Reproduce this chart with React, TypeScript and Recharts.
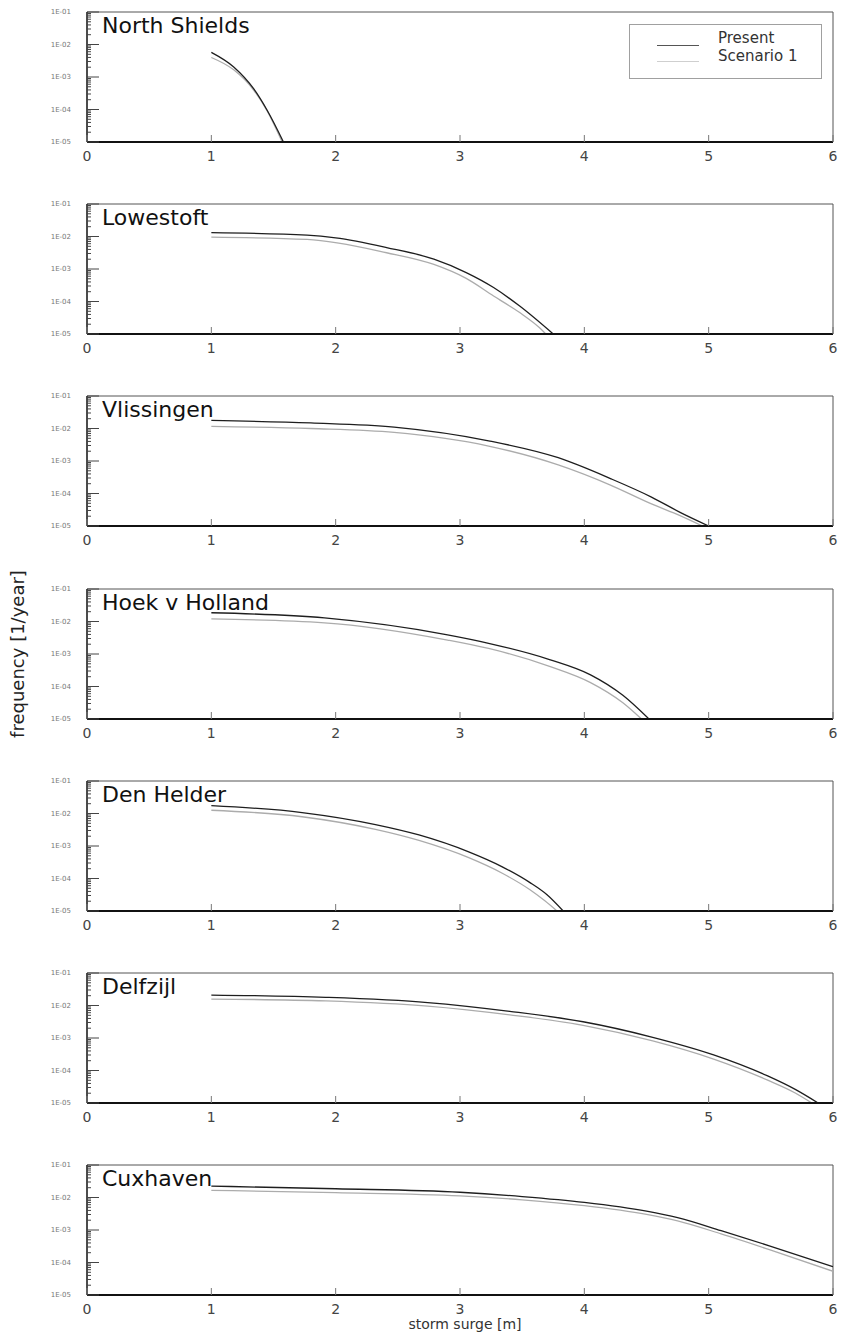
import React from 'react';
import { LineChart, Line, XAxis, YAxis, ReferenceLine } from 'recharts';

// ---------- data ----------
const stationNames = ['North Shields', 'Lowestoft', 'Vlissingen', 'Hoek v Holland', 'Den Helder', 'Delfzijl', 'Cuxhaven'];
const seriesNames = ['Present', 'Scenario 1'];
const xTicks = [0, 1, 2, 3, 4, 5, 6];
const yMajorTicks = [1e-5, 1e-4, 1e-3, 1e-2, 1e-1];
const yTickLabels = ['1E-05', '1E-04', '1E-03', '1E-02', '1E-01'];
const xAxisTitle = 'storm surge [m]';
const yAxisTitle = 'frequency [1/year]';

const northShieldsPresentX = [1.0, 1.18, 1.34, 1.45, 1.58];
const northShieldsPresent = [5.75e-3, 2.04e-3, 4.37e-4, 9.3e-5, 1.0e-5];
const northShieldsScenarioX = [1.0, 1.18, 1.34, 1.45, 1.57];
const northShieldsScenario = [3.98e-3, 1.66e-3, 3.98e-4, 8.9e-5, 1.0e-5];

const lowestoftPresentX = [1.0, 1.77, 2.0, 2.41, 2.79, 3.05, 3.27, 3.48, 3.75];
const lowestoftPresent = [0.0132, 0.011, 0.0091, 0.00457, 0.002, 7.76e-4, 2.69e-4, 7.24e-5, 1.0e-5];
const lowestoftScenarioX = [1.0, 1.77, 2.41, 2.79, 3.05, 3.27, 3.48, 3.64, 3.69];
const lowestoftScenario = [0.00955, 0.00813, 0.00316, 0.00138, 5.13e-4, 1.48e-4, 4.57e-5, 1.55e-5, 1.0e-5];

const vlissingenPresentX = [1.0, 1.8, 2.47, 3.23, 3.79, 4.21, 4.54, 4.77, 5.0];
const vlissingenPresent = [0.0178, 0.0148, 0.011, 0.00417, 0.00126, 2.88e-4, 7.76e-5, 2.63e-5, 1.0e-5];
const vlissingenScenarioX = [1.0, 1.8, 2.47, 3.23, 3.79, 4.21, 4.54, 4.77, 4.95];
const vlissingenScenario = [0.0117, 0.01, 0.00759, 0.00288, 7.59e-4, 1.82e-4, 4.79e-5, 2.09e-5, 1.0e-5];

const hoekPresentX = [1.0, 1.91, 2.9, 3.23, 3.72, 4.05, 4.31, 4.52];
const hoekPresent = [0.0186, 0.0129, 0.00389, 0.00214, 6.76e-4, 2.29e-4, 5.37e-5, 1.0e-5];
const hoekScenarioX = [1.0, 1.91, 2.9, 3.23, 3.72, 4.05, 4.31, 4.46];
const hoekScenario = [0.012, 0.00912, 0.00269, 0.00148, 4.17e-4, 1.32e-4, 3.16e-5, 1.0e-5];

const denHelderPresentX = [1.0, 1.73, 2.32, 2.67, 3.07, 3.34, 3.56, 3.7, 3.83];
const denHelderPresent = [0.0174, 0.0107, 0.00457, 0.00219, 6.61e-4, 2.29e-4, 7.59e-5, 3.16e-5, 1.0e-5];
const denHelderScenarioX = [1.0, 1.73, 2.32, 2.67, 3.07, 3.34, 3.56, 3.68, 3.78];
const denHelderScenario = [0.0126, 0.00794, 0.00324, 0.00148, 4.37e-4, 1.45e-4, 4.57e-5, 2.09e-5, 1.0e-5];

const delfzijlPresentX = [1.0, 1.92, 2.74, 3.4, 3.99, 4.55, 5.04, 5.47, 5.7, 5.88];
const delfzijlPresent = [0.0209, 0.0178, 0.0123, 0.0066, 0.00316, 0.00105, 3.02e-4, 6.92e-5, 2.57e-5, 1.0e-5];
const delfzijlScenarioX = [1.0, 1.92, 2.74, 3.4, 3.99, 4.55, 5.04, 5.47, 5.7, 5.83];
const delfzijlScenario = [0.0158, 0.0138, 0.00955, 0.00513, 0.00245, 8.13e-4, 2.24e-4, 5.13e-5, 2.0e-5, 1.0e-5];

const cuxhavenPresentX = [1.0, 2.0, 3.0, 3.5, 4.0, 4.5, 4.75, 5.1, 5.5, 6.0];
const cuxhavenPresent = [0.0224, 0.0186, 0.0145, 0.0107, 0.00708, 0.0038, 0.0024, 9.55e-4, 3.16e-4, 7.41e-5];
const cuxhavenScenarioX = [1.0, 2.0, 3.0, 3.5, 4.0, 4.5, 4.75, 5.1, 5.5, 6.0];
const cuxhavenScenario = [0.0166, 0.0141, 0.0112, 0.0085, 0.00562, 0.00302, 0.00191, 7.59e-4, 2.4e-4, 5.37e-5];

// ---------- assembly ----------
const toPoints = (xs: number[], ys: number[]) => xs.map((x, i) => ({ x, y: ys[i] }));

const stations = [
  { px: northShieldsPresentX, p: northShieldsPresent, sx: northShieldsScenarioX, s: northShieldsScenario },
  { px: lowestoftPresentX, p: lowestoftPresent, sx: lowestoftScenarioX, s: lowestoftScenario },
  { px: vlissingenPresentX, p: vlissingenPresent, sx: vlissingenScenarioX, s: vlissingenScenario },
  { px: hoekPresentX, p: hoekPresent, sx: hoekScenarioX, s: hoekScenario },
  { px: denHelderPresentX, p: denHelderPresent, sx: denHelderScenarioX, s: denHelderScenario },
  { px: delfzijlPresentX, p: delfzijlPresent, sx: delfzijlScenarioX, s: delfzijlScenario },
  { px: cuxhavenPresentX, p: cuxhavenPresent, sx: cuxhavenScenarioX, s: cuxhavenScenario },
].map((st, i) => ({
  name: stationNames[i],
  present: toPoints(st.px, st.p),
  scenario: toPoints(st.sx, st.s),
}));

const yMinorTicks: number[] = [];
yMajorTicks.slice(0, 4).forEach((d) => {
  [2, 3, 4, 5, 6, 7, 8, 9].forEach((m) => yMinorTicks.push(d * m));
});
const yAllTicks = [...yMajorTicks, ...yMinorTicks].sort((a, b) => a - b);

const FONT = '"DejaVu Sans", "Liberation Sans", Arial, sans-serif';
const PRESENT_COLOR = '#1e1e1e';
const SCENARIO_COLOR = '#acacac';

const PANEL_TOPS = [12, 204, 396, 589, 781, 973, 1165];
const CHART_W = 848;
const MARGIN_TOP = 8;
const PLOT_H = 130;
const XAXIS_H = 25;
const CHART_H = MARGIN_TOP + PLOT_H + XAXIS_H;

const majorIndex = (v: number) =>
  yMajorTicks.findIndex((t) => Math.abs(Math.log10(t) - Math.log10(v)) < 1e-6);

const YTick = (props: any) => {
  const { x, y, payload } = props;
  const idx = majorIndex(payload.value);
  const isMajor = idx >= 0;
  return (
    <g>
      <line x1={x} x2={x + (isMajor ? 12 : 4)} y1={y} y2={y} stroke="#444" strokeWidth={1} />
      {isMajor && (
        <text x={x - 16} y={y} textAnchor="end" dominantBaseline="central" fontSize={7} fill="#777" fontFamily={FONT}>
          {yTickLabels[idx]}
        </text>
      )}
    </g>
  );
};

const XTick = (props: any) => {
  const { x, y, payload } = props;
  return (
    <g>
      <line x1={x} x2={x} y1={y} y2={y - 7} stroke="#777" strokeWidth={1} />
      <text x={x} y={y + 19} textAnchor="middle" fontSize={14} fill="#444" fontFamily={FONT}>
        {payload.value}
      </text>
    </g>
  );
};

const LegendBox = () => (
  <div
    style={{
      position: 'absolute',
      left: 629,
      top: 24,
      width: 191,
      height: 53,
      border: '1px solid #a0a0a0',
      background: '#fff',
      fontFamily: FONT,
      fontSize: 15,
      color: '#333',
    }}
  >
    {seriesNames.map((n, i) => (
      <React.Fragment key={n}>
        <div
          style={{
            position: 'absolute',
            left: 27,
            top: i === 0 ? 20 : 36,
            width: 42,
            height: 0,
            borderTop: `1.5px solid ${i === 0 ? '#555' : '#cfcfcf'}`,
          }}
        />
        <div
          style={{
            position: 'absolute',
            left: 88,
            top: i === 0 ? 5 : 23,
            lineHeight: '17px',
            whiteSpace: 'nowrap',
          }}
        >
          {n}
        </div>
      </React.Fragment>
    ))}
  </div>
);

const Panel = ({ idx }: { idx: number }) => {
  const st = stations[idx];
  return (
    <div style={{ position: 'absolute', left: 0, top: PANEL_TOPS[idx] - MARGIN_TOP, width: CHART_W, height: CHART_H }}>
      <LineChart width={CHART_W} height={CHART_H} margin={{ top: MARGIN_TOP, right: 15, bottom: 0, left: 0 }}>
        <XAxis
          dataKey="x"
          type="number"
          domain={[0, 6]}
          ticks={xTicks}
          allowDataOverflow
          height={XAXIS_H}
          tickSize={0}
          tickMargin={0}
          tickLine={false}
          axisLine={{ stroke: '#111', strokeWidth: 2 }}
          tick={<XTick />}
          interval={0}
        />
        <YAxis
          dataKey="y"
          type="number"
          scale="log"
          domain={[1e-5, 1e-1]}
          ticks={yAllTicks}
          allowDataOverflow
          width={87}
          tickSize={0}
          tickMargin={0}
          tickLine={false}
          axisLine={{ stroke: '#111', strokeWidth: 1.5 }}
          tick={<YTick />}
          interval={0}
        />
        <ReferenceLine y={1e-1} stroke="#555" strokeWidth={1} />
        <ReferenceLine x={6} stroke="#555" strokeWidth={1} />
        <Line
          data={st.scenario}
          dataKey="y"
          name={seriesNames[1]}
          type="monotone"
          stroke={SCENARIO_COLOR}
          strokeWidth={1.3}
          dot={false}
          isAnimationActive={false}
        />
        <Line
          data={st.present}
          dataKey="y"
          name={seriesNames[0]}
          type="monotone"
          stroke={PRESENT_COLOR}
          strokeWidth={1.3}
          dot={false}
          isAnimationActive={false}
        />
      </LineChart>
      <div
        style={{
          position: 'absolute',
          left: 102,
          top: MARGIN_TOP + 3,
          fontFamily: FONT,
          fontSize: 22,
          lineHeight: '22px',
          color: '#111',
          whiteSpace: 'nowrap',
        }}
      >
        {st.name}
      </div>
    </div>
  );
};

export default function App() {
  return (
    <div style={{ position: 'absolute', left: 0, top: 0, width: 848, height: 1333, background: '#fff', overflow: 'hidden' }}>
      {stations.map((_, i) => (
        <Panel key={i} idx={i} />
      ))}
      <LegendBox />
      <div
        style={{
          position: 'absolute',
          left: 465 - 100,
          width: 200,
          top: 1317,
          textAlign: 'center',
          fontFamily: FONT,
          fontSize: 14,
          lineHeight: '15px',
          color: '#333',
        }}
      >
        {xAxisTitle}
      </div>
      <div
        style={{
          position: 'absolute',
          left: 18 - 110,
          top: 654 - 11,
          width: 220,
          height: 22,
          lineHeight: '22px',
          textAlign: 'center',
          transform: 'rotate(-90deg)',
          fontFamily: FONT,
          fontSize: 18,
          color: '#222',
          whiteSpace: 'nowrap',
        }}
      >
        {yAxisTitle}
      </div>
    </div>
  );
}
